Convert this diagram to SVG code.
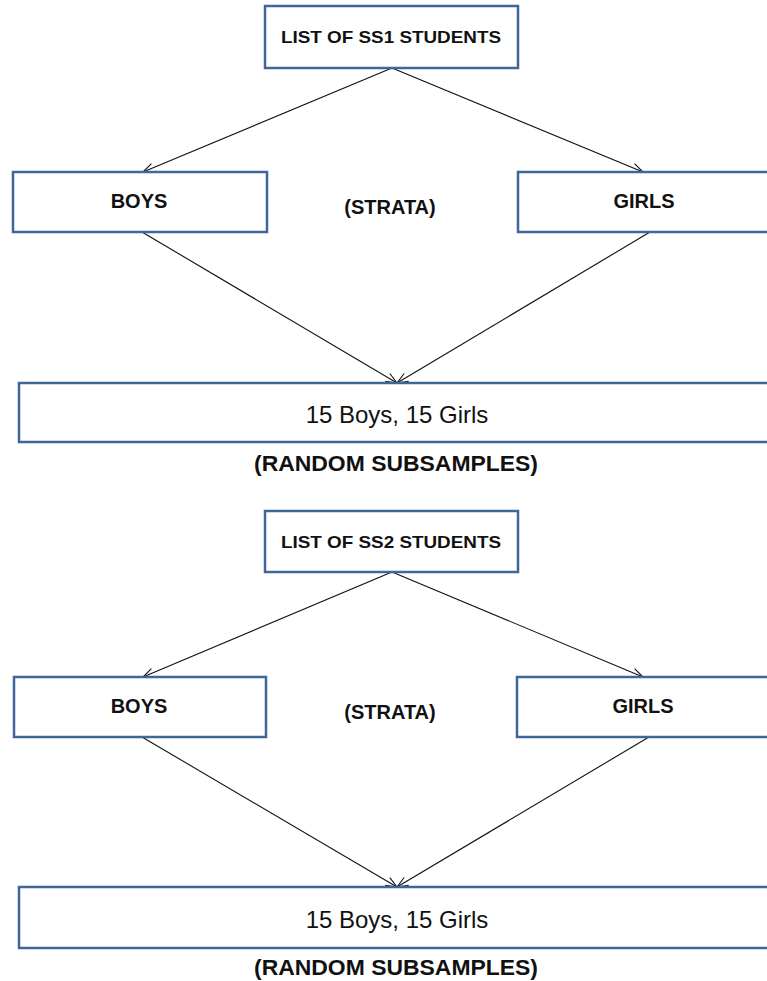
<svg xmlns="http://www.w3.org/2000/svg" width="767" height="981" viewBox="0 0 767 981">
  <style>
    .box { fill: #ffffff; stroke: #41669a; stroke-width: 2.5; }
    .edge { fill: none; stroke: #111111; stroke-width: 1.1; }
    .b { font-family: "Liberation Sans", Arial, sans-serif; font-weight: bold; fill: #111111; text-anchor: middle; }
    .r { font-family: "Liberation Sans", Arial, sans-serif; fill: #111111; text-anchor: middle; }
  </style>
  <defs>
    <marker id="arr" markerUnits="userSpaceOnUse" markerWidth="14" markerHeight="12" viewBox="-12 -6 14 12" refX="0" refY="0" orient="auto">
      <path d="M-11,-4.5 L0,0 L-11,4.5" fill="none" stroke="#111111" stroke-width="1.1"/>
    </marker>
  </defs>
  <rect width="767" height="981" fill="#ffffff"/>

  <!-- Diagram 1 -->
  <g id="connectors1">
    <line class="edge" x1="392" y1="68" x2="143" y2="172" marker-end="url(#arr)"/>
    <line class="edge" x1="392" y1="68" x2="643" y2="172" marker-end="url(#arr)"/>
    <line class="edge" x1="142" y1="232" x2="397" y2="383" marker-end="url(#arr)"/>
    <line class="edge" x1="650" y1="232" x2="397" y2="383" marker-end="url(#arr)"/>
  </g>
  <g id="list-ss1">
    <rect class="box" x="265" y="6" width="253" height="62"/>
    <text class="b" x="391" y="43" font-size="17" textLength="220" lengthAdjust="spacingAndGlyphs">LIST OF SS1 STUDENTS</text>
  </g>
  <g id="boys1">
    <rect class="box" x="13" y="172" width="254" height="60"/>
    <text class="b" x="139" y="208" font-size="20">BOYS</text>
  </g>
  <g id="girls1">
    <rect class="box" x="518" y="172" width="262" height="60"/>
    <text class="b" x="644" y="208" font-size="20">GIRLS</text>
  </g>
  <g id="strata1">
    <text class="b" x="390" y="214" font-size="20">(STRATA)</text>
  </g>
  <g id="sample1">
    <rect class="box" x="19" y="383" width="762" height="59"/>
    <text class="r" x="397" y="423" font-size="24">15 Boys, 15 Girls</text>
  </g>
  <g id="random1">
    <text class="b" x="396" y="471" font-size="22" textLength="284" lengthAdjust="spacingAndGlyphs">(RANDOM SUBSAMPLES)</text>
  </g>

  <!-- Diagram 2 -->
  <g id="connectors2">
    <line class="edge" x1="392" y1="572" x2="143" y2="677" marker-end="url(#arr)"/>
    <line class="edge" x1="392" y1="572" x2="643" y2="677" marker-end="url(#arr)"/>
    <line class="edge" x1="142" y1="737" x2="397" y2="887" marker-end="url(#arr)"/>
    <line class="edge" x1="649" y1="737" x2="397" y2="887" marker-end="url(#arr)"/>
  </g>
  <g id="list-ss2">
    <rect class="box" x="265" y="511" width="253" height="61"/>
    <text class="b" x="391" y="548" font-size="17" textLength="220" lengthAdjust="spacingAndGlyphs">LIST OF SS2 STUDENTS</text>
  </g>
  <g id="boys2">
    <rect class="box" x="14" y="677" width="252" height="60"/>
    <text class="b" x="139" y="713" font-size="20">BOYS</text>
  </g>
  <g id="girls2">
    <rect class="box" x="517" y="677" width="263" height="60"/>
    <text class="b" x="643" y="713" font-size="20">GIRLS</text>
  </g>
  <g id="strata2">
    <text class="b" x="390" y="719" font-size="20">(STRATA)</text>
  </g>
  <g id="sample2">
    <rect class="box" x="19" y="887" width="762" height="61"/>
    <text class="r" x="397" y="928" font-size="24">15 Boys, 15 Girls</text>
  </g>
  <g id="random2">
    <text class="b" x="396" y="975" font-size="22" textLength="284" lengthAdjust="spacingAndGlyphs">(RANDOM SUBSAMPLES)</text>
  </g>
</svg>
